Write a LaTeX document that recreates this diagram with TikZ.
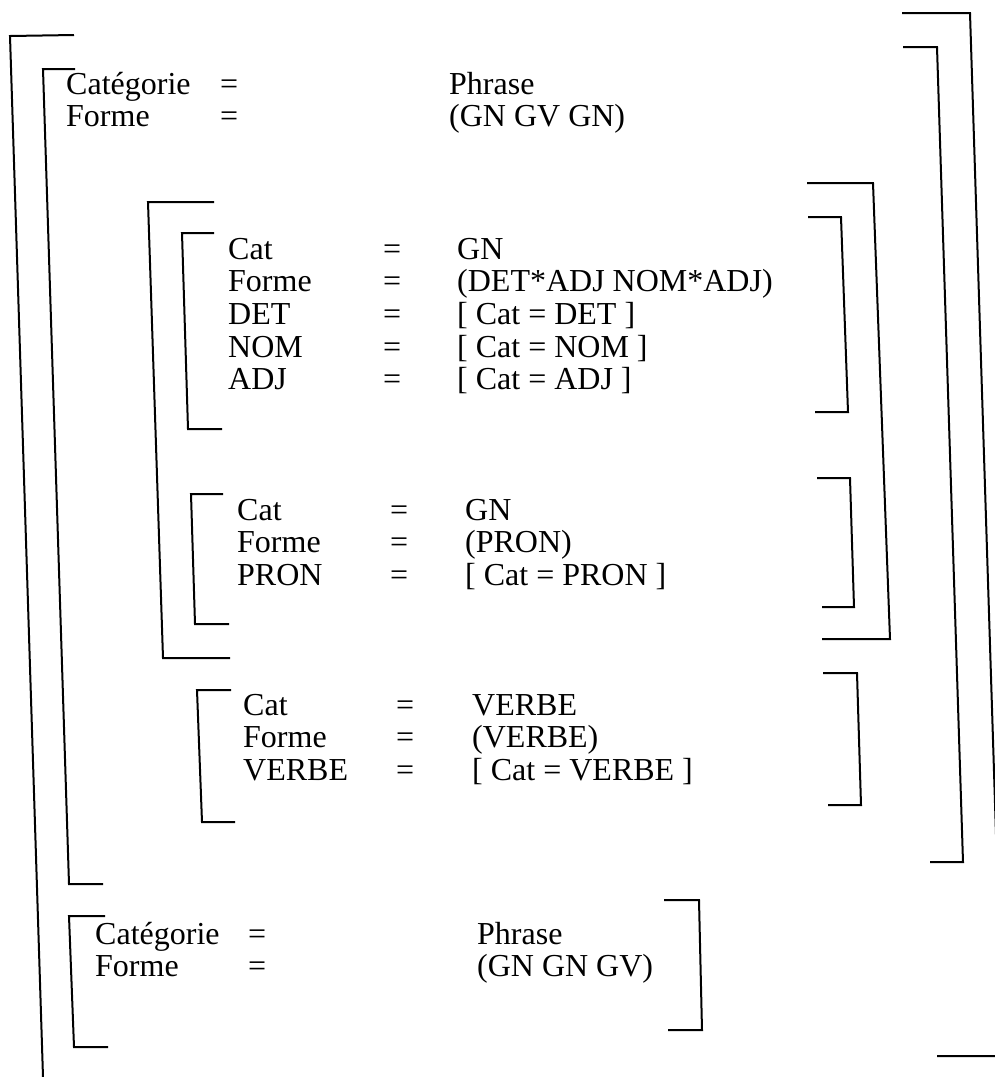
\documentclass[tikz,border=0pt]{standalone}
\usepackage{fontspec}
\setmainfont{Liberation Serif}
\begin{document}
\begin{tikzpicture}[
  x=1pt, y=-1pt,
  brk/.style={draw, line width=2pt, line join=miter},
  avm/.style={anchor=base west, inner sep=0pt, font={\fontsize{32}{32.7}\selectfont}}
]
\useasboundingbox (0,0) rectangle (995,1077);
\node[avm] (phr1) at (66,94) {\begin{tabular}[t]{@{}p{154pt}@{}p{229pt}@{}l@{}}
  Catégorie & = & Phrase\\ Forme & = & (GN GV GN)\end{tabular}};
\node[avm] (gn1) at (228,259) {\begin{tabular}[t]{@{}p{155pt}@{}p{74pt}@{}l@{}}
  Cat & = & GN\\ Forme & = & (DET*ADJ NOM*ADJ)\\ DET & = & [ Cat = DET ]\\
  NOM & = & [ Cat = NOM ]\\ ADJ & = & [ Cat = ADJ ]\end{tabular}};
\node[avm] (gn2) at (237,520) {\begin{tabular}[t]{@{}p{153pt}@{}p{75pt}@{}l@{}}
  Cat & = & GN\\ Forme & = & (PRON)\\ PRON & = & [ Cat = PRON ]\end{tabular}};
\node[avm] (verbe) at (243,715) {\begin{tabular}[t]{@{}p{153pt}@{}p{76pt}@{}l@{}}
  Cat & = & VERBE\\ Forme & = & (VERBE)\\ VERBE & = & [ Cat = VERBE ]\end{tabular}};
\node[avm] (phr2) at (95,944) {\begin{tabular}[t]{@{}p{153pt}@{}p{229pt}@{}l@{}}
  Catégorie & = & Phrase\\ Forme & = & (GN GN GV)\end{tabular}};
% left brackets
\draw[brk] (74,35) -- (10,36) -- (43,1077);
\draw[brk] (75,69) -- (43,69) -- (69,884) -- (103,884);
\draw[brk] (214,202) -- (148,202) -- (163,658) -- (230,658);
\draw[brk] (214,233) -- (182,233) -- (188,429) -- (222,429);
\draw[brk] (223,494) -- (191,494) -- (195,624) -- (229,624);
\draw[brk] (231,690) -- (197,690) -- (202,822) -- (235,822);
\draw[brk] (105,916) -- (69,916) -- (74,1047) -- (108,1047);
% right brackets
\draw[brk] (902,13) -- (970,13) -- (1003,1056) -- (937,1056);
\draw[brk] (903,47) -- (937,47) -- (963,862) -- (930,862);
\draw[brk] (807,183) -- (873,183) -- (890,639) -- (822,639);
\draw[brk] (808,217) -- (841,217) -- (848,412) -- (815,412);
\draw[brk] (817,478) -- (850,478) -- (854,607) -- (822,607);
\draw[brk] (823,673) -- (857,673) -- (861,805) -- (828,805);
\draw[brk] (664,900) -- (699,900) -- (702,1030) -- (668,1030);
\end{tikzpicture}
\end{document}
